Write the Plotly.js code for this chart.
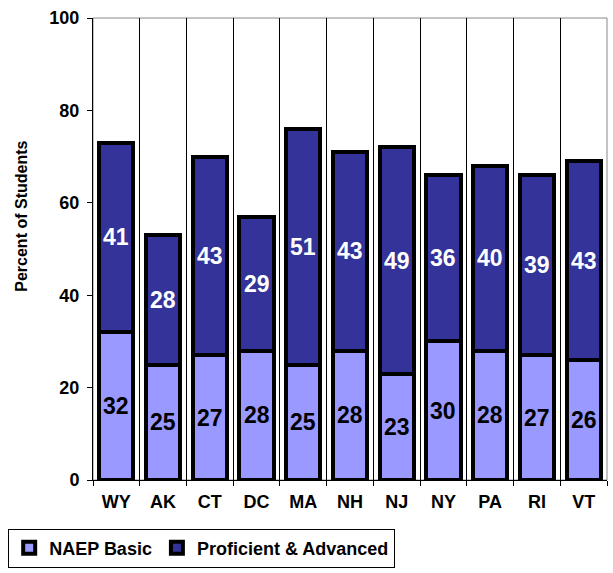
<!DOCTYPE html>
<html><head><meta charset="utf-8">
<script src="https://cdn.plot.ly/plotly-3.0.1.min.js"></script>
<style>html,body{margin:0;padding:0;background:#fff}#c{width:613px;height:573px}</style>
</head><body><div id="c"></div>
<script>
const states = ["WY","AK","CT","DC","MA","NH","NJ","NY","PA","RI","VT"];
const basic = [32,25,27,28,25,28,23,30,28,27,26];
const proficient = [41,28,43,29,51,43,49,36,40,39,43];
const yTicks = [0,20,40,60,80,100];

const font = "Liberation Sans, Arial, sans-serif";
const traces = [
  {type:"bar", name:"NAEP Basic", x:states, y:basic, textposition:"none",
   marker:{color:"#9999FF", line:{color:"#000", width:4}}},
  {type:"bar", name:"Proficient & Advanced", x:states, y:proficient, textposition:"none",
   marker:{color:"#333399", line:{color:"#000", width:4}}}
];
const annotations = [];
states.forEach((s, i) => {
  annotations.push({x:s, y:basic[i]/2, xref:"x", yref:"y", text:String(basic[i]), showarrow:false,
    font:{family:font, size:23, color:"#000", weight:"bold"}});
  annotations.push({x:s, y:basic[i] + proficient[i]/2, xref:"x", yref:"y", text:String(proficient[i]), showarrow:false,
    font:{family:font, size:23, color:"#fff", weight:"bold"}});
});
annotations.push({xref:"paper", yref:"paper", x:-0.138, y:0.57, xanchor:"center", yanchor:"middle",
  textangle:-90, text:"Percent of Students", showarrow:false,
  font:{family:font, size:16, color:"#000", weight:"bold"}});
const layout = {
  width:613, height:573, barmode:"stack", bargap:0.27,
  margin:{l:93, r:6, t:18, b:93},
  paper_bgcolor:"#fff", plot_bgcolor:"#fff",
  font:{family:font, color:"#000"},
  annotations: annotations,
  xaxis:{tickson:"boundaries", showgrid:true, gridcolor:"#000", gridwidth:1,
    ticks:"outside", ticklen:5, tickcolor:"#000", showline:true, linecolor:"#000", linewidth:1,
    ticklabelstandoff:5,
    tickfont:{family:font, size:18, weight:"bold"}, zeroline:false},
  yaxis:{range:[0,100], tickvals:yTicks, ticktext:yTicks.map(String), showgrid:false,
    ticks:"outside", ticklen:5, tickcolor:"#000", showline:true, linecolor:"#000", linewidth:1,
    ticklabelstandoff:4,
    tickfont:{family:font, size:18, weight:"bold"}, zeroline:false},
  shapes:[{type:"rect", xref:"paper", yref:"paper", x0:0, x1:1, y0:0, y1:1,
    line:{color:"#888", width:1}, layer:"below"}],
  legend:{orientation:"h", x:-0.165, xanchor:"left", y:-0.105, yanchor:"top",
    bordercolor:"#000", borderwidth:1, bgcolor:"#fff",
    font:{family:font, size:18, weight:"bold"}, traceorder:"normal", itemwidth:30}
};
Plotly.newPlot("c", traces, layout, {displayModeBar:false});
</script></body></html>
